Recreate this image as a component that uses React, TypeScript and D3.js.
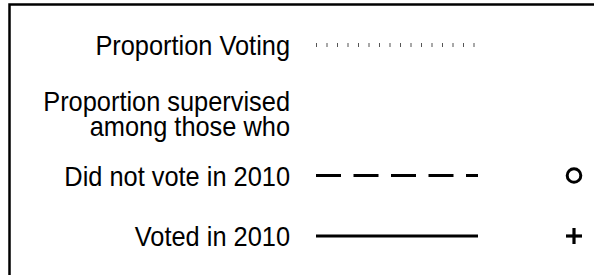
import React from 'react'
import * as d3 from 'd3'

// legend entries
const legendLabels = ['Proportion Voting', 'Proportion supervised\namong those who', 'Did not vote in 2010', 'Voted in 2010']
const lineTypes = ['dotted', 'none', 'dashed', 'solid']
const markers = ['none', 'none', 'circle', 'plus']

const W = 594
const H = 275

export default function App() {
  // vertical anchor of each entry (centre of its last text line)
  const rowY = d3.scaleOrdinal<string, number>().domain(legendLabels).range([45, 126, 175.5, 236])
  const textRight = 290
  const lineX = d3.scaleLinear().domain([0, 1]).range([316, 478])
  const markX = 574
  const fontSize = 27
  const squeeze = 0.94 // glyphs in the reference are a little narrow
  const lh = 25

  const dash = (t: string) => t === 'dashed' ? '25 12.5' : t === 'dotted' ? '1 9.5' : undefined

  return <svg width={W} height={H} style={{ position: 'absolute', left: 0, top: 0, display: 'block', background: 'white' }}
              fontFamily="'Liberation Sans', Arial, sans-serif">
    <rect x={9.5} y={4.5} width={W + 20} height={H + 20} fill="none" stroke="black" strokeWidth={2.5} />
    {legendLabels.map((label, i) => {
      const y = rowY(label)
      const lines = label.split('\n')
      const t = lineTypes[i]
      const m = markers[i]
      return <g key={label}>
        {lines.map((ln, j) => (
          <text key={j} transform={`translate(${textRight},${y + 10 - (lines.length - 1 - j) * lh}) scale(${squeeze},1)`}
                textAnchor="end" fontSize={fontSize} fill="black">{ln}</text>
        ))}
        {t !== 'none' && <line x1={lineX(0)} x2={lineX(1)} y1={y} y2={y}
                               stroke={t === 'dotted' ? '#555' : 'black'}
                               strokeWidth={t === 'dotted' ? 4 : 3}
                               strokeDasharray={dash(t)} />}
        {m === 'circle' && <circle cx={markX} cy={y} r={6.8} fill="none" stroke="black" strokeWidth={3} />}
        {m === 'plus' && <g stroke="black" strokeWidth={3.2}>
          <line x1={markX - 8} x2={markX + 8} y1={y} y2={y} />
          <line x1={markX} x2={markX} y1={y - 8} y2={y + 8} />
        </g>}
      </g>
    })}
  </svg>
}
